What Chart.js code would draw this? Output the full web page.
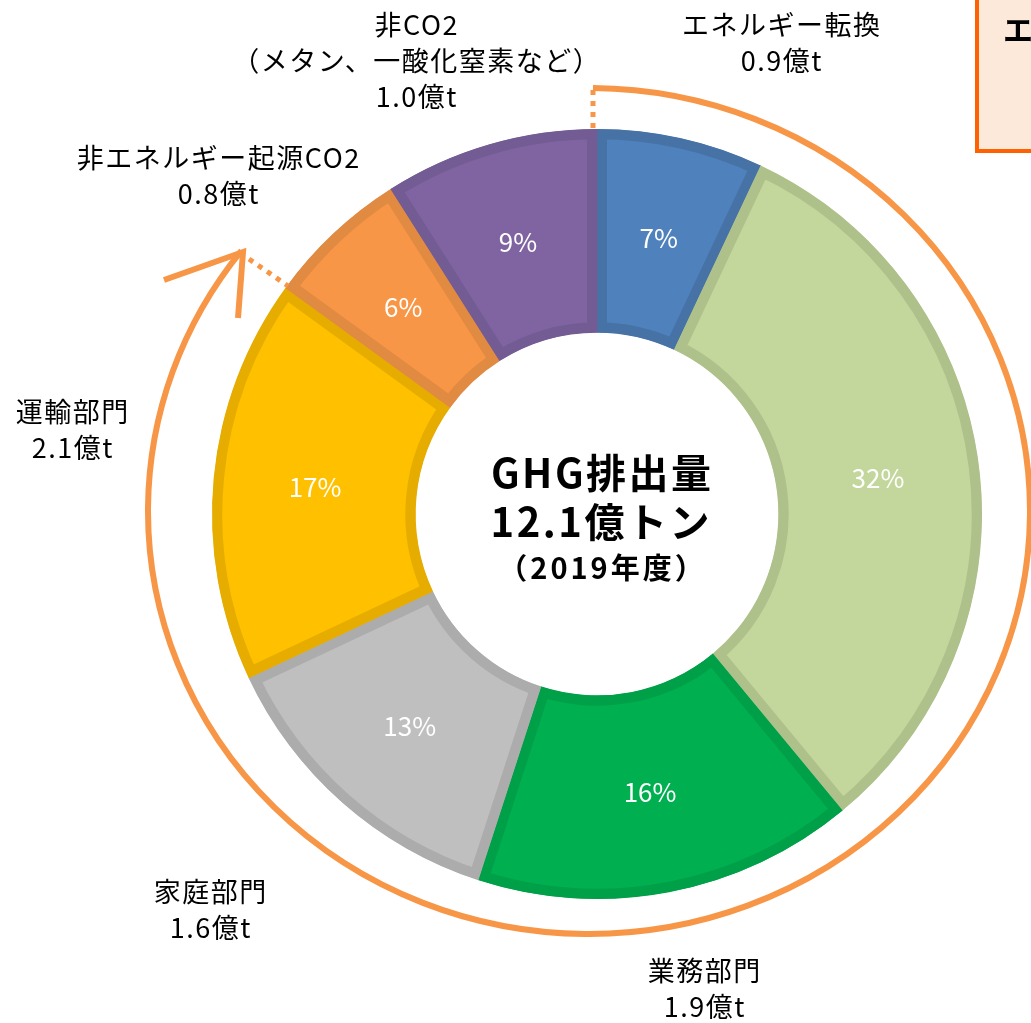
<!DOCTYPE html>
<html>
<head>
<meta charset="utf-8">
<script src="https://cdn.jsdelivr.net/npm/chart.js@4"></script>
<style>
  html, body { margin: 0; padding: 0; background: #fff; }
  #wrap { width: 1031px; height: 1023px; position: relative; }
</style>
</head>
<body>
<div id="wrap"><canvas id="ghg" width="1031" height="1023"></canvas></div>
<script>
// =========================
// DATA
// =========================
const categories = ['エネルギー転換', '産業部門', '業務部門', '家庭部門', '運輸部門', '非エネルギー起源CO2', '非CO2'];
const subLabels  = ['', '', '', '', '', '', '（メタン、一酸化窒素など）'];
const shares     = [7, 32, 16, 13, 17, 6, 9];          // %
const amounts    = [0.9, 3.8, 1.9, 1.6, 2.1, 0.8, 1.0]; // 億t
const fills      = ['#4f81bd', '#c3d69b', '#00b050', '#bfbfbf', '#ffc000', '#f79646', '#8064a2'];
const borders    = ['#4672a6', '#afc18b', '#00a048', '#acacac', '#e6ad00', '#e08a42', '#735b93'];

const centerLines = ['GHG排出量', '12.1億トン', '（2019年度）'];

// outer label anchors (layout only)
const labelPos = [
    [781, 25], [1120, 480], [704, 971], [210, 892], [72, 412], [218, 158], [416, 25]
];

const FONT = '"Noto Sans CJK JP", "Noto Sans", sans-serif';

// centered text with letter spacing (trailing gap compensated)
function spacedText(ctx, text, x, y, spacing) {
    ctx.letterSpacing = spacing + 'px';
    ctx.fillText(text, x + spacing / 2, y);
    ctx.letterSpacing = '0px';
}

// =========================
// PLUGINS
// =========================
const percentPlugin = {
    id: 'percentLabels',
    afterDatasetsDraw(chart) {
        const ctx = chart.ctx;
        const meta = chart.getDatasetMeta(0);
        ctx.save();
        ctx.fillStyle = '#fff';
        ctx.font = '26px ' + FONT;
        ctx.textAlign = 'center';
        ctx.textBaseline = 'middle';
        meta.data.forEach((arc, i) => {
            const p = arc.getCenterPoint();
            ctx.fillText(shares[i] + '%', p.x, p.y);
        });
        ctx.restore();
    }
};

const decoPlugin = {
    id: 'deco',
    afterDraw(chart) {
        const ctx = chart.ctx;
        ctx.save();

        // center text
        ctx.fillStyle = '#000';
        ctx.textAlign = 'center';
        ctx.textBaseline = 'middle';
        ctx.font = 'bold 40px ' + FONT;
        spacedText(ctx, centerLines[0], 601, 473, 2.5);
        spacedText(ctx, centerLines[1], 600, 522, 2.5);
        ctx.font = 'bold 29px ' + FONT;
        spacedText(ctx, centerLines[2], 601, 568, 3);

        // outer labels
        ctx.font = '27px ' + FONT;
        categories.forEach((name, i) => {
            const [x, y] = labelPos[i];
            const lines = [name];
            if (subLabels[i]) lines.push(subLabels[i]);
            lines.push(amounts[i].toFixed(1) + '億t');
            lines.forEach((t, k) => spacedText(ctx, t, x, y + k * 36, 1.5));
        });

        // orange arc with arrow
        const cx = 589, cy = 511, rx = 441, ry = 423;
        ctx.strokeStyle = '#f79646';
        ctx.lineWidth = 6;
        ctx.lineCap = 'butt';
        ctx.beginPath();
        ctx.ellipse(cx, cy, rx, ry, 0, -Math.PI / 2 + 0.009, Math.PI * 218 / 180);
        ctx.stroke();

        ctx.beginPath();
        ctx.moveTo(164, 280);
        ctx.lineTo(243, 252);
        ctx.lineTo(238, 318);
        ctx.stroke();

        // dotted connectors
        ctx.setLineDash([5, 6]);
        ctx.lineWidth = 5;
        ctx.beginPath();
        ctx.moveTo(593, 90);
        ctx.lineTo(593, 130);
        ctx.stroke();
        ctx.beginPath();
        ctx.moveTo(249, 259);
        ctx.lineTo(288, 286);
        ctx.stroke();
        ctx.setLineDash([]);

        // clipped box top right
        ctx.fillStyle = '#fde9d9';
        ctx.fillRect(977, -10, 100, 161);
        ctx.strokeStyle = '#ff6000';
        ctx.lineWidth = 4;
        ctx.strokeRect(977, -10, 100, 161);
        ctx.fillStyle = '#000';
        ctx.textAlign = 'left';
        ctx.font = 'bold 30px ' + FONT;
        ctx.fillText('エネルギー起源CO2', 1003, 30);

        ctx.restore();
    }
};

// =========================
// CHART
// =========================
new Chart(document.getElementById('ghg').getContext('2d'), {
    type: 'doughnut',
    data: {
        labels: categories,
        datasets: [{
            data: shares,
            backgroundColor: fills,
            borderColor: borders,
            borderWidth: 10,
            borderAlign: 'inner',
            borderJoinStyle: 'miter'
        }]
    },
    options: {
        responsive: false,
        animation: false,
        radius: 385,
        cutout: 187,
        layout: { padding: { left: 200, right: 37, top: 100, bottom: 95 } },
        plugins: { legend: { display: false }, tooltip: { enabled: false } }
    },
    plugins: [percentPlugin, decoPlugin]
});
</script>
</body>
</html>
